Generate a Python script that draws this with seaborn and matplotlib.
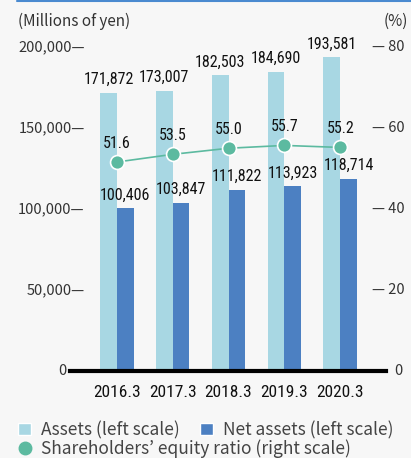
import numpy as np
import pandas as pd
import matplotlib
matplotlib.use("Agg")
import matplotlib.pyplot as plt
import matplotlib.transforms as mtransforms
from matplotlib.patches import Patch
from matplotlib.lines import Line2D
import seaborn as sns

# donnees
years = ["2016.3", "2017.3", "2018.3", "2019.3", "2020.3"]
assets = [171872, 173007, 182503, 184690, 193581]
net_assets = [100406, 103847, 111822, 113923, 118714]
equity_ratio = [51.6, 53.5, 55.0, 55.7, 55.2]
left_ticks = [0, 50000, 100000, 150000, 200000]
right_ticks = [0, 20, 40, 60, 80]

c_assets = "#a8d7e3"
c_net = "#4c80c2"
c_ratio = "#5cbaa0"
bg = "#f7f7f7"

sns.set_style("white")
plt.rcParams["font.family"] = ["Noto Sans CJK JP", "DejaVu Sans"]
num_font = ["Roboto Condensed", "DejaVu Sans"]

df = pd.DataFrame({
    "year": years * 2,
    "value": assets + net_assets,
    "serie": ["Assets"] * len(years) + ["Net assets"] * len(years),
})

W, H = 411, 458
fig = plt.figure(figsize=(W / 100, H / 100), dpi=100, facecolor=bg)
ax = fig.add_axes([70 / W, (H - 371) / H, 316 / W, 324 / H])
ax.set_facecolor(bg)

sns.barplot(data=df, x="year", y="value", hue="serie", palette=[c_assets, c_net],
            width=0.6, saturation=1, linewidth=0, legend=False, ax=ax)

# etiquettes des barres
for cont, vals in zip(ax.containers, [assets, net_assets]):
    ax.bar_label(cont, labels=[f"{v:,}" for v in vals], padding=4,
                 fontsize=11.5, family=num_font, color="#111111")

ax.set_ylim(0, 200000)
ax.set_xlim(-0.84, 4.82)
ax.set_xlabel("")
ax.set_ylabel("")
ax.set_yticks([])
ax.tick_params(axis="x", length=0, pad=10)
for lab in ax.get_xticklabels():
    lab.set_family(num_font)
    lab.set_fontsize(12.5)
    lab.set_color("#111111")
for s in ["top", "right", "left"]:
    ax.spines[s].set_visible(False)
ax.spines["bottom"].set_linewidth(3)
ax.spines["bottom"].set_color("black")

# echelle de gauche
trans_l = mtransforms.blended_transform_factory(ax.transAxes, ax.transData)
for t in left_ticks:
    if t == 0:
        ax.text(-0.01, t, "0", ha="right", va="center", transform=trans_l,
                fontsize=10.5, color="#333333")
    else:
        ax.text(0.046, t, f"{t:,}—", ha="right", va="center", transform=trans_l,
                fontsize=10.5, color="#333333")

# ratio (echelle de droite)
ax2 = ax.twinx()
ax2.set_ylim(0, 80)
ax2.set_yticks([])
for s in ["top", "right", "left", "bottom"]:
    ax2.spines[s].set_visible(False)
xpos = np.arange(len(years))
sns.lineplot(x=xpos, y=equity_ratio, color=c_ratio, linewidth=1.2, marker="o",
             markersize=10, markeredgecolor="white", markeredgewidth=1.2, ax=ax2)
for x, v in zip(xpos, equity_ratio):
    ax2.annotate(f"{v:.1f}", (x, v), xytext=(0, 8), textcoords="offset points",
                 ha="center", va="bottom", fontsize=11.5, family=num_font, color="#111111")

trans_r = mtransforms.blended_transform_factory(ax2.transAxes, ax2.transData)
for t in right_ticks:
    if t == 0:
        ax2.text(1.025, t, "0", ha="left", va="center", transform=trans_r,
                 fontsize=10.5, color="#333333")
    else:
        ax2.text(0.956, t, f"— {t}", ha="left", va="center", transform=trans_r,
                 fontsize=10.5, color="#333333")

fig.text(18 / W, 1 - 21 / H, "(Millions of yen)", ha="left", va="center",
         fontsize=11, color="#333333")
fig.text(408 / W, 1 - 21 / H, "(%)", ha="right", va="center",
         fontsize=11, color="#333333")

# ligne bleue en haut
fig.add_artist(Line2D([17 / W, 1], [1 - 1 / H, 1 - 1 / H], color="#4a8ad0", linewidth=1.5))

# legendes
h1 = [Patch(facecolor=c_assets), Patch(facecolor=c_net)]
fig.legend(h1, ["Assets (left scale)", "Net assets (left scale)"], ncol=2,
           loc="center left", bbox_to_anchor=(18 / W, 1 - 430 / H), frameon=False,
           fontsize=12.5, handlelength=0.75, handleheight=0.75, handletextpad=0.55,
           columnspacing=1.2, borderpad=0, borderaxespad=0, labelcolor="#444444")
h2 = [Line2D([], [], marker="o", linestyle="none", markersize=9,
             markerfacecolor=c_ratio, markeredgecolor=c_ratio)]
fig.legend(h2, ["Shareholders’ equity ratio (right scale)"], loc="center left",
           bbox_to_anchor=(18 / W, 1 - 449 / H), frameon=False, fontsize=12.5,
           handlelength=0.75, handletextpad=0.55, borderpad=0, borderaxespad=0,
           labelcolor="#444444")

plt.savefig("out.png", dpi=100, facecolor=bg)
